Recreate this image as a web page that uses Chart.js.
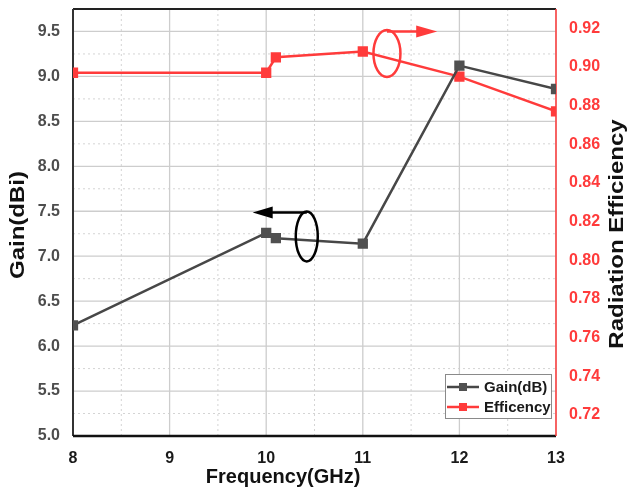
<!DOCTYPE html>
<html>
<head>
<meta charset="utf-8">
<script src="https://cdn.jsdelivr.net/npm/chart.js@4"></script>
<style>
  html, body { margin: 0; padding: 0; background: #fff; }
  #wrap { width: 627px; height: 493px; }
</style>
</head>
<body>
<div id="wrap"><canvas id="gainChart" width="627" height="493"></canvas></div>
<script>
// values
const freq = [8, 10, 10.1, 11, 12, 13];
const gain = [6.23, 7.26, 7.20, 7.14, 9.12, 8.86];
const efficiency = [0.897, 0.897, 0.905, 0.908, 0.895, 0.877];

const freqTicks = [8, 9, 10, 11, 12, 13];
const gainTicks = [5.0, 5.5, 6.0, 6.5, 7.0, 7.5, 8.0, 8.5, 9.0, 9.5];
const effTicks = [0.72, 0.74, 0.76, 0.78, 0.80, 0.82, 0.84, 0.86, 0.88, 0.90, 0.92];

const FONT = '"Liberation Sans", Arial, sans-serif';
const RED = '#ff3b3b';
const DARK = '#474747';

// no extra label padding from the scales, the chart area is set by layout
function noPad(scale) {
    scale.paddingTop = 0;
    scale.paddingBottom = 0;
    scale.paddingLeft = 0;
    scale.paddingRight = 0;
}

// grid, frame, axis titles, annotations and legend
const decorations = {
    id: 'decorations',
    beforeDatasetsDraw(chart) {
        const ctx = chart.ctx;
        const ca = chart.chartArea;
        const xs = chart.scales.x;
        const ys = chart.scales.y;
        ctx.save();
        // minor dotted lines
        ctx.strokeStyle = '#d4d4d4';
        ctx.lineWidth = 1;
        ctx.setLineDash([2, 3]);
        for (let i = 0; i < freqTicks.length - 1; i++) {
            const px = xs.getPixelForValue(freqTicks[i] + 0.5);
            ctx.beginPath(); ctx.moveTo(px, ca.top); ctx.lineTo(px, ca.bottom); ctx.stroke();
        }
        for (let i = 0; i < gainTicks.length; i++) {
            const py = ys.getPixelForValue(gainTicks[i] + 0.25);
            if (py < ca.top) continue;
            ctx.beginPath(); ctx.moveTo(ca.left, py); ctx.lineTo(ca.right, py); ctx.stroke();
        }
        // major solid lines
        ctx.setLineDash([]);
        ctx.strokeStyle = '#cdcdcd';
        ctx.lineWidth = 1.3;
        freqTicks.forEach(v => {
            const px = xs.getPixelForValue(v);
            ctx.beginPath(); ctx.moveTo(px, ca.top); ctx.lineTo(px, ca.bottom); ctx.stroke();
        });
        gainTicks.forEach(v => {
            const py = ys.getPixelForValue(v);
            ctx.beginPath(); ctx.moveTo(ca.left, py); ctx.lineTo(ca.right, py); ctx.stroke();
        });
        // frame
        ctx.strokeStyle = '#222';
        ctx.lineWidth = 2;
        ctx.beginPath(); ctx.moveTo(ca.left, ca.top); ctx.lineTo(ca.right, ca.top); ctx.stroke();
        ctx.strokeStyle = '#333';
        ctx.beginPath(); ctx.moveTo(ca.left, ca.top); ctx.lineTo(ca.left, ca.bottom); ctx.stroke();
        ctx.strokeStyle = '#111';
        ctx.lineWidth = 2.5;
        ctx.beginPath(); ctx.moveTo(ca.left, ca.bottom); ctx.lineTo(ca.right, ca.bottom); ctx.stroke();
        ctx.strokeStyle = RED;
        ctx.lineWidth = 1.5;
        ctx.beginPath(); ctx.moveTo(ca.right, ca.top); ctx.lineTo(ca.right, ca.bottom); ctx.stroke();
        ctx.restore();
    },
    afterDraw(chart) {
        const ctx = chart.ctx;
        const ca = chart.chartArea;
        const xs = chart.scales.x;
        const ys = chart.scales.y;
        const y2 = chart.scales.y2;
        ctx.save();

        // axis titles
        ctx.fillStyle = '#111';
        ctx.font = 'bold 20px ' + FONT;
        ctx.textAlign = 'center';
        ctx.textBaseline = 'alphabetic';
        ctx.fillText('Frequency(GHz)', ca.left + 0.435 * (ca.right - ca.left), 483);

        ctx.textBaseline = 'middle';
        ctx.save();
        ctx.translate(18, 225);
        ctx.rotate(-Math.PI / 2);
        ctx.scale(1.2, 1);
        ctx.fillText('Gain(dBi)', 0, 0);
        ctx.restore();

        ctx.save();
        ctx.translate(617, 234);
        ctx.rotate(-Math.PI / 2);
        ctx.scale(1.2, 1);
        ctx.fillText('Radiation Efficiency', 0, 0);
        ctx.restore();

        // annotation: efficiency -> right axis
        ctx.lineWidth = 2.5;
        ctx.strokeStyle = RED;
        ctx.fillStyle = RED;
        let cx = xs.getPixelForValue(11.25);
        let cy = y2.getPixelForValue(0.907);
        ctx.beginPath(); ctx.ellipse(cx, cy, 13.5, 23.5, 0, 0, Math.PI * 2); ctx.stroke();
        let tip = xs.getPixelForValue(11.77);
        let ay = cy - 22;
        ctx.beginPath(); ctx.moveTo(cx, ay); ctx.lineTo(tip - 18, ay); ctx.stroke();
        ctx.beginPath(); ctx.moveTo(tip, ay); ctx.lineTo(tip - 21, ay - 6); ctx.lineTo(tip - 21, ay + 6); ctx.closePath(); ctx.fill();

        // annotation: gain -> left axis
        ctx.strokeStyle = '#000';
        ctx.fillStyle = '#000';
        cx = xs.getPixelForValue(10.42);
        cy = ys.getPixelForValue(7.22);
        ctx.beginPath(); ctx.ellipse(cx, cy, 11, 25, 0, 0, Math.PI * 2); ctx.stroke();
        tip = xs.getPixelForValue(9.86);
        ay = cy - 24;
        ctx.beginPath(); ctx.moveTo(cx, ay); ctx.lineTo(tip + 17, ay); ctx.stroke();
        ctx.beginPath(); ctx.moveTo(tip, ay); ctx.lineTo(tip + 20, ay - 6); ctx.lineTo(tip + 20, ay + 6); ctx.closePath(); ctx.fill();

        // legend box
        const bw = 106, bh = 44;
        const bx = ca.right - 5 - bw;
        const by = ca.bottom - 18 - bh;
        ctx.fillStyle = '#fff';
        ctx.fillRect(bx, by, bw, bh);
        ctx.strokeStyle = '#8a8a8a';
        ctx.lineWidth = 1;
        ctx.strokeRect(bx + 0.5, by + 0.5, bw, bh);
        ctx.font = 'bold 15px ' + FONT;
        ctx.textAlign = 'left';
        ctx.textBaseline = 'middle';
        chart.data.datasets.forEach((ds, i) => {
            const ry = by + 13 + i * 20;
            ctx.strokeStyle = ds.borderColor;
            ctx.lineWidth = 2.5;
            ctx.beginPath(); ctx.moveTo(bx + 2, ry); ctx.lineTo(bx + 34, ry); ctx.stroke();
            ctx.fillStyle = ds.pointBackgroundColor;
            ctx.fillRect(bx + 14, ry - 4, 8, 8);
            ctx.fillStyle = '#1a1a1a';
            ctx.fillText(ds.label, bx + 39, ry + 1);
        });
        ctx.restore();
    }
};

const ctxEl = document.getElementById('gainChart');
new Chart(ctxEl, {
    type: 'line',
    data: {
        datasets: [
            {
                label: 'Gain(dB)',
                data: freq.map((f, i) => ({x: f, y: gain[i]})),
                yAxisID: 'y',
                borderColor: DARK,
                backgroundColor: DARK,
                pointBackgroundColor: '#505050',
                pointBorderColor: '#505050',
                borderWidth: 2.5,
                pointStyle: 'rect',
                pointRadius: 5.5,
                tension: 0
            },
            {
                label: 'Efficency',
                data: freq.map((f, i) => ({x: f, y: efficiency[i]})),
                yAxisID: 'y2',
                borderColor: RED,
                backgroundColor: RED,
                pointBackgroundColor: RED,
                pointBorderColor: RED,
                borderWidth: 2.5,
                pointStyle: 'rect',
                pointRadius: 5.5,
                tension: 0
            }
        ]
    },
    options: {
        responsive: false,
        animation: false,
        layout: {
            padding: { top: 9, left: 0, right: 0, bottom: 0 }
        },
        scales: {
            x: {
                type: 'linear',
                min: 8,
                max: 13,
                afterBuildTicks: scale => { scale.ticks = freqTicks.map(v => ({value: v})); },
                afterFit: scale => { scale.height = 57; noPad(scale); },
                grid: { display: false, drawTicks: false },
                border: { display: false },
                ticks: {
                    padding: 13,
                    color: '#1a1a1a',
                    font: { family: FONT, size: 16, weight: 'bold' },
                    callback: v => String(v)
                }
            },
            y: {
                position: 'left',
                min: 5,
                max: 9.75,
                afterBuildTicks: scale => { scale.ticks = gainTicks.map(v => ({value: v})); },
                afterFit: scale => { scale.width = 73; noPad(scale); },
                grid: { display: false, drawTicks: false },
                border: { display: false },
                ticks: {
                    padding: 13,
                    color: '#4d4d4d',
                    font: { family: FONT, size: 16, weight: 'bold' },
                    callback: v => Number(v).toFixed(1)
                }
            },
            y2: {
                position: 'right',
                min: 0.709,
                max: 0.930,
                afterBuildTicks: scale => { scale.ticks = effTicks.map(v => ({value: v})); },
                afterFit: scale => { scale.width = 71; noPad(scale); },
                grid: { display: false, drawTicks: false },
                border: { display: false },
                ticks: {
                    padding: 13,
                    color: RED,
                    font: { family: FONT, size: 16, weight: 'bold' },
                    callback: v => Number(v).toFixed(2)
                }
            }
        },
        plugins: {
            legend: { display: false },
            tooltip: { enabled: false }
        }
    },
    plugins: [decorations]
});
</script>
</body>
</html>
